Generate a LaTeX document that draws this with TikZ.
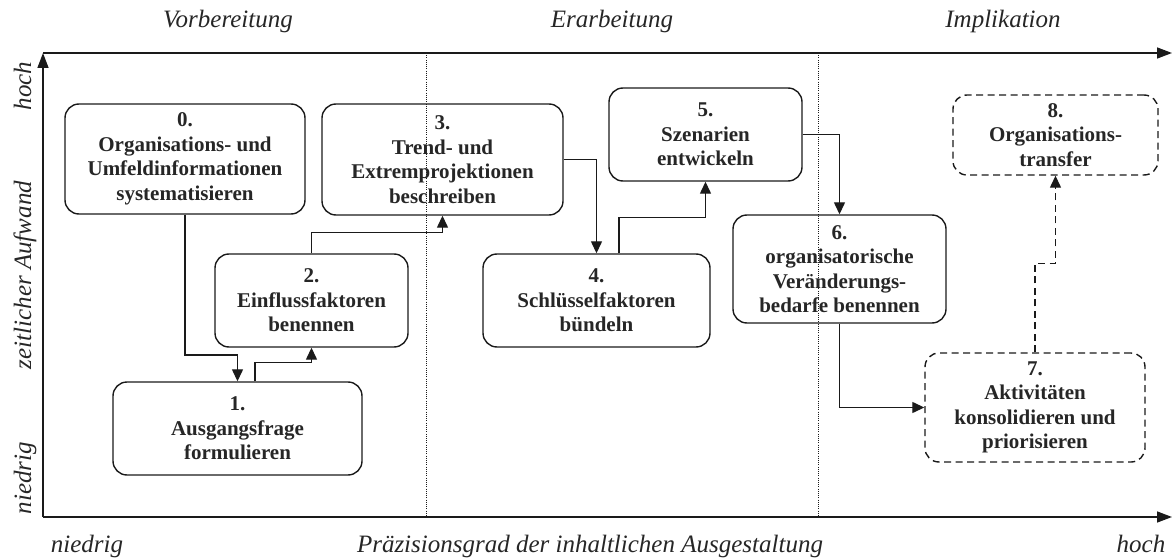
\documentclass[tikz,border=0pt]{standalone}
\usepackage{fontspec}
\setmainfont{Liberation Serif}
\usetikzlibrary{arrows.meta}
\definecolor{ink}{HTML}{1A1A1A}
\definecolor{txt}{HTML}{262626}
\begin{document}
\begin{tikzpicture}[x=1pt,y=-1pt,
  stepbox/.style={draw=ink, line width=1.4pt, rounded corners=14pt, align=center,
    inner sep=0pt, text=txt, font=\bfseries\fontsize{21}{24.5}\selectfont},
  planbox/.style={stepbox, dash pattern=on 7pt off 4.5pt},
  conn/.style={draw=ink, line width=1.3pt, -{Triangle[length=12pt,width=11pt]}},
  planconn/.style={conn, dash pattern=on 7pt off 4.5pt},
  axis/.style={draw=ink, line width=1.5pt, -{Triangle[length=15pt,width=11pt]}},
  phase/.style={draw=ink, line width=0.9pt, dash pattern=on 1pt off 1.2pt},
  lbl/.style={text=txt, inner sep=0pt, font=\itshape\fontsize{25}{30}\selectfont}]
\useasboundingbox (0,0) rectangle (1173,559);

% axes
\coordinate (o) at (43,517);
\coordinate (ytop) at (43,53);
\coordinate (xend) at (1172,517);
\coordinate (tend) at (1172,53);
\draw[axis] (o) -- (ytop);
\draw[axis] (ytop) -- (tend);
\draw[axis] (o) -- (xend);

% phase separators
\coordinate (p1t) at (426,53);
\coordinate (p1b) at (426,517);
\coordinate (p2t) at (818,53);
\coordinate (p2b) at (818,517);
\draw[phase] (p1t) -- (p1b);
\draw[phase] (p2t) -- (p2b);

% phase titles
\node[lbl, anchor=base] (ph1) at (228,28) {Vorbereitung};
\node[lbl, anchor=base] (ph2) at (612,28) {Erarbeitung};
\node[lbl, anchor=base] (ph3) at (1003,28) {Implikation};

% axis labels
\node[lbl, anchor=base, rotate=90] (yhi) at (31,86) {hoch};
\node[lbl, anchor=base, rotate=90] (ytit) at (31,275) {zeitlicher Aufwand};
\node[lbl, anchor=base, rotate=90] (ylo) at (31,478) {niedrig};
\node[lbl, anchor=base] (xlo) at (87,552) {niedrig};
\node[lbl, anchor=base] (xtit) at (590,552) {Präzisionsgrad der inhaltlichen Ausgestaltung};
\node[lbl, anchor=base] (xhi) at (1141,552) {hoch};

% steps
\node[stepbox, minimum width=240pt, minimum height=110pt] (b0) at (185,159)
  {0.\\Organisations- und\\Umfeldinformationen\\systematisieren};
\node[stepbox, minimum width=249pt, minimum height=93pt] (b1) at (237.5,428.5)
  {1.\\Ausgangsfrage\\formulieren};
\node[stepbox, minimum width=193pt, minimum height=93pt] (b2) at (311.5,300.5)
  {2.\\Einflussfaktoren\\benennen};
\node[stepbox, minimum width=241pt, minimum height=111pt] (b3) at (442.5,159.5)
  {3.\\Trend- und\\Extremprojektionen\\beschreiben};
\node[stepbox, minimum width=227pt, minimum height=93pt] (b4) at (596.5,300.5)
  {4.\\Schlüsselfaktoren\\bündeln};
\node[stepbox, minimum width=193pt, minimum height=93pt] (b5) at (705.5,134.5)
  {5.\\Szenarien\\entwickeln};
\node[stepbox, minimum width=213pt, minimum height=108pt] (b6) at (839.5,269)
  {6.\\organisatorische\\Veränderungs-\\bedarfe benennen};
\node[planbox, minimum width=220pt, minimum height=109pt] (b7) at (1035,407.5)
  {7.\\Aktivitäten\\konsolidieren und\\priorisieren};
\node[planbox, minimum width=205pt, minimum height=80pt] (b8) at (1055.5,135)
  {8.\\Organisations-\\transfer};

% flow
\draw[conn] (b0.south) -- (b0.south |- 0,355) -| (b1.north);
\draw[conn] ([xshift=17.5pt]b1.north) -- ++(0,-19) -| (b2.south);
\draw[conn] (b2.north) -- ++(0,-21) -| (b3.south);
\draw[conn] (b3.east) -| (b4.north);
\draw[conn] ([xshift=22.5pt]b4.north) -- ++(0,-36) -| (b5.south);
\draw[conn] (b5.east) -| (b6.north);
\draw[conn] (b6.south) |- (b7.west);
\draw[planconn] (b7.north) -- ++(0,-89) -| (b8.south);
\end{tikzpicture}
\end{document}
